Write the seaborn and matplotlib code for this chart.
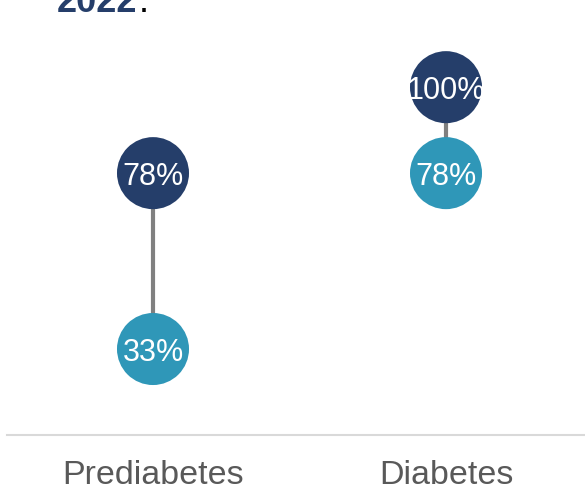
import matplotlib
matplotlib.use("Agg")
import matplotlib.pyplot as plt
import seaborn as sns
import pandas as pd

categories = ["Prediabetes", "Diabetes"]
series_high = [78, 100]
series_low = [33, 78]
high_color = "#253E6A"
low_color = "#2F97B8"

sns.set_theme(style="white")
plt.rcParams['font.family'] = ['Liberation Sans', 'DejaVu Sans']

df = pd.DataFrame({
    "cat": categories * 2,
    "val": series_high + series_low,
    "grp": ["high"] * 2 + ["low"] * 2,
})
df["x"] = df["cat"].map({c: i for i, c in enumerate(categories)})

fig = plt.figure(figsize=(5.85, 4.95), dpi=100)
ax = fig.add_axes([7/585, 1 - 435/495, 1 - 7/585, 435/495])

for i, c in enumerate(categories):
    ax.plot([i, i], [series_low[i], series_high[i]], color="#808080", lw=3, zorder=1)

sns.scatterplot(data=df, x="x", y="val", hue="grp",
                palette={"high": high_color, "low": low_color},
                s=2690, linewidth=0, legend=False, ax=ax, zorder=2)

for _, r in df.iterrows():
    ax.text(r["x"], r["val"], f"{r['val']}%", ha="center", va="center_baseline",
            color="white", fontsize=22, zorder=3)

ax.set_xlim(-146/293, 1 + 139/293)
ax.set_ylim(11, 122.3)
ax.set_xticks(range(len(categories)))
ax.set_xticklabels(categories, fontsize=24.5, color="#595959")
ax.tick_params(axis="x", length=0, pad=18)
ax.set_yticks([])
ax.set_xlabel("")
ax.set_ylabel("")
for s in ["top", "left", "right"]:
    ax.spines[s].set_visible(False)
ax.spines["bottom"].set_color("#D9D9D9")
ax.spines["bottom"].set_linewidth(1.5)

fig.text(57/585, 1 - 12/495, "2022", fontsize=26, fontweight="bold",
         color=high_color, va="baseline", ha="left")
fig.text(139/585, 1 - 12/495, ".", fontsize=26, color="black",
         va="baseline", ha="left")

fig.savefig("out.png", dpi=100)
